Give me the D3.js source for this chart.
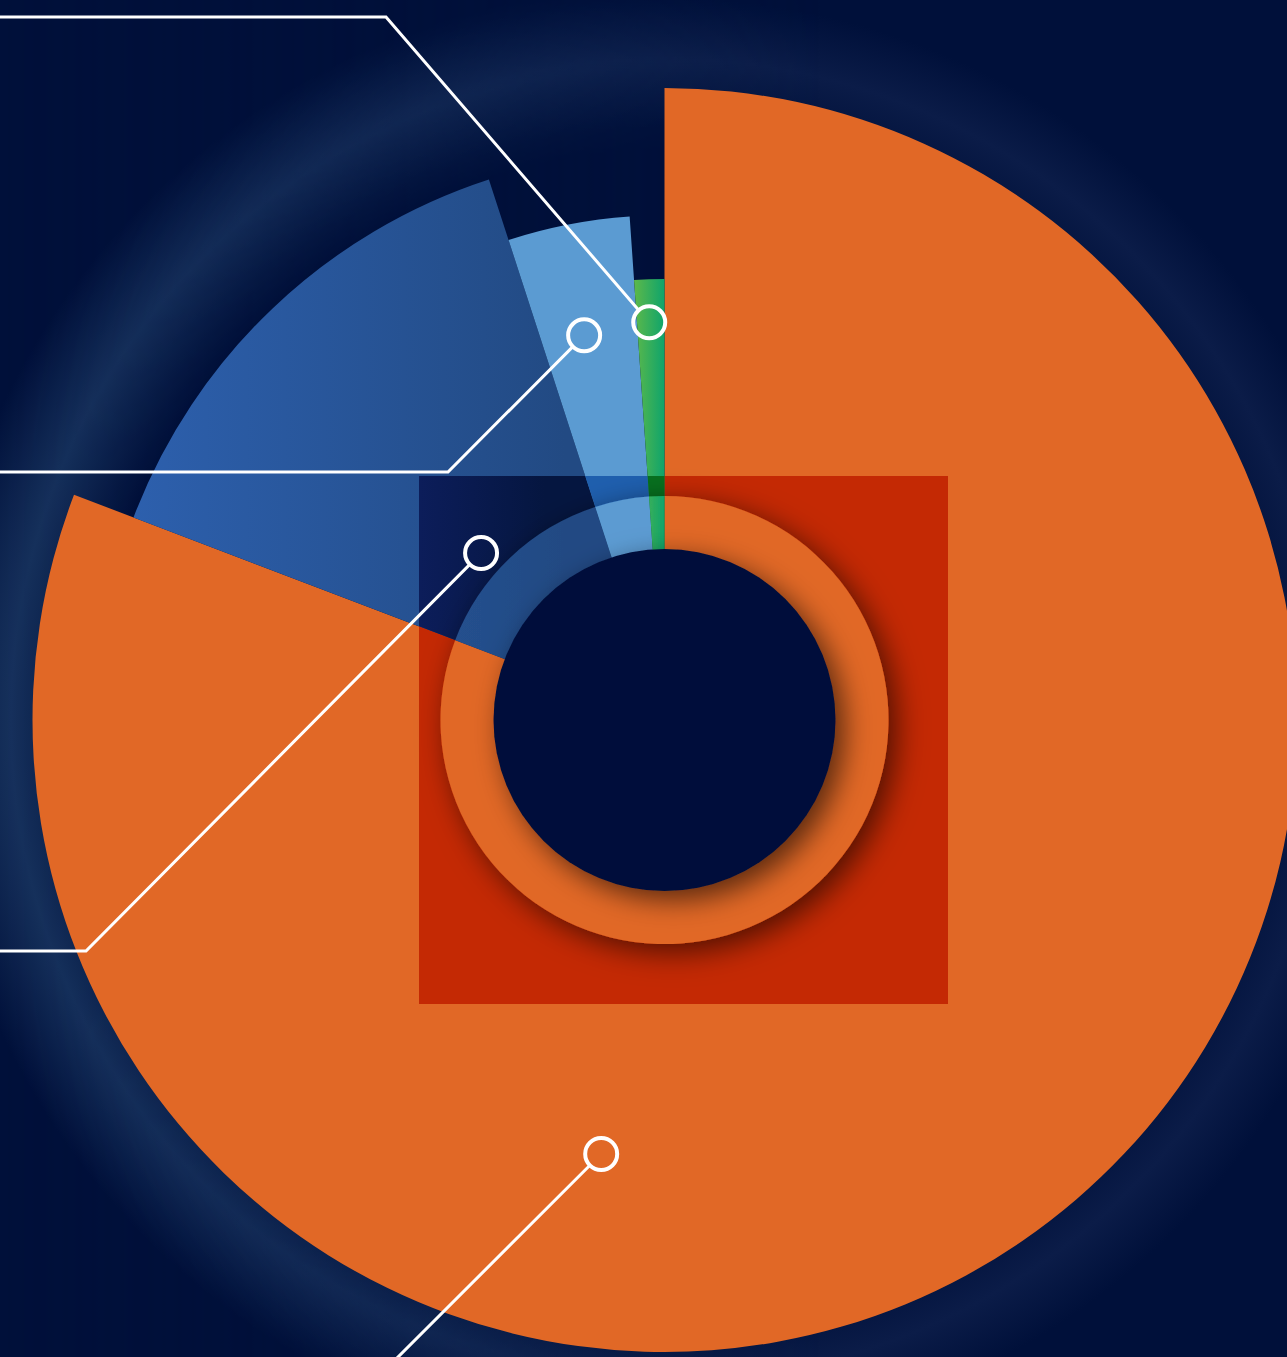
<!DOCTYPE html>
<html>
<head>
<meta charset="utf-8">
<script src="https://d3js.org/d3.v7.min.js"></script>
<style>
  body { margin: 0; background: #00103a; overflow: hidden; }
  svg { display: block; }
</style>
</head>
<body>
<svg id="chart"></svg>
<script>
// --- data ---
const segments = ["Segment A", "Segment B", "Segment C", "Segment D"];
const shares = [80.8, 14.2, 3.9, 1.1];     // percent of the circle
const levels = [4, 3, 2, 1];               // radial step of each wedge

// --- layout ---
const W = 1287, H = 1357;
const cx = 664.5, cy = 720;
const HOLE_R = 171, RING_R = 224;
const square = { x: -245.5, y: -244, w: 529, h: 528 };

const fills = ["#e16826", "url(#gradDark)", "#5b9bd2", "url(#gradGreen)"];
const tints = ["#c42904", "url(#gradDarkTint)", "#1f5fae", "#07701f"];

// marker = polar position on the wedge, elbow = where the leader turns horizontal
const callouts = [
  { seg: 0, angle: 188.3, r: 438.6, elbow: [340, 1415] },
  { seg: 1, angle: -47.7, r: 248, elbow: [86, 951] },
  { seg: 2, angle: -11.8, r: 393, elbow: [448, 472] },
  { seg: 3, angle: -2.2, r: 398, elbow: [386, 17] }
];

const svg = d3.select("#chart").attr("width", W).attr("height", H);
const defs = svg.append("defs");

function linGrad(id, x1, x2, stops) {
  const g = defs.append("linearGradient").attr("id", id)
    .attr("gradientUnits", "userSpaceOnUse")
    .attr("x1", x1).attr("x2", x2).attr("y1", 0).attr("y2", 0);
  stops.forEach(s => g.append("stop").attr("offset", s[0]).attr("stop-color", s[1]));
}
linGrad("gradDark", -540, -100, [[0, "#2d60ae"], [1, "#224a83"]]);
linGrad("gradDarkTint", -245, -120, [[0, "#0c1d5a"], [1, "#051640"]]);
linGrad("gradGreen", -30, 0, [[0, "#5cb84a"], [1, "#0ea46c"]]);
linGrad("fadeRight", 0, 820, [[0, "#fff"], [1, "#000"]]);

// halo around the pie: faint all round, stronger on the left
function halo(id, stops) {
  const rg = defs.append("radialGradient").attr("id", id)
    .attr("gradientUnits", "userSpaceOnUse")
    .attr("cx", cx).attr("cy", cy).attr("r", 760);
  stops.forEach(s => rg.append("stop").attr("offset", s[0]).attr("stop-color", s[1]));
}
halo("glowSoft", [[0, "#00103a"], [0.78, "#00103a"], [0.87, "#0b1c48"], [0.95, "#00103a"], [1, "#00103a"]]);
halo("glowStrong", [[0, "#00103a"], [0.75, "#00103a"], [0.86, "#16315c"], [0.965, "#00103a"], [1, "#00103a"]]);

defs.append("mask").attr("id", "leftMask")
  .attr("maskUnits", "userSpaceOnUse")
  .attr("x", 0).attr("y", 0).attr("width", W).attr("height", H)
  .append("rect").attr("width", W).attr("height", H).attr("fill", "url(#fadeRight)");

function shadow(id, d, sd, op) {
  defs.append("filter").attr("id", id)
    .attr("x", "-30%").attr("y", "-30%").attr("width", "160%").attr("height", "160%")
    .append("feDropShadow")
    .attr("dx", d).attr("dy", d).attr("stdDeviation", sd)
    .attr("flood-color", "#000").attr("flood-opacity", op);
}
shadow("ringShadow", 8, 15, 0.6);
shadow("holeShadow", 9, 14, 0.6);

defs.append("clipPath").attr("id", "sqClip")
  .append("rect")
  .attr("x", square.x).attr("y", square.y)
  .attr("width", square.w).attr("height", square.h);

// background
svg.append("rect").attr("width", W).attr("height", H).attr("fill", "#00103a");
svg.append("rect").attr("width", W).attr("height", H).attr("fill", "url(#glowSoft)");
svg.append("rect").attr("width", W).attr("height", H).attr("fill", "url(#glowStrong)")
  .attr("mask", "url(#leftMask)");

const g = svg.append("g").attr("transform", `translate(${cx},${cy})`);

const data = segments.map((s, i) => ({ name: s, share: shares[i], level: levels[i], i }));
const pie = d3.pie().sort(null).value(d => d.share).startAngle(0).endAngle(2 * Math.PI);
const arcs = pie(data);

const rScale = d3.scaleLinear().domain([1, 4]).range([441, 632]);

const wedge = d3.arc()
  .innerRadius(HOLE_R)
  .outerRadius(d => rScale(d.data.level));

g.append("g").selectAll("path")
  .data(arcs).join("path")
  .attr("d", wedge)
  .attr("fill", d => fills[d.data.i]);

// tinted square
const core = d3.arc().innerRadius(0).outerRadius(d => rScale(d.data.level));
g.append("g").attr("clip-path", "url(#sqClip)")
  .selectAll("path")
  .data(arcs).join("path")
  .attr("d", core)
  .attr("fill", d => tints[d.data.i]);

// ring
const ring = d3.arc().innerRadius(HOLE_R - 1).outerRadius(RING_R);
g.append("g").attr("filter", "url(#ringShadow)")
  .selectAll("path")
  .data(arcs).join("path")
  .attr("d", ring)
  .attr("fill", d => fills[d.data.i]);

// hole
g.append("circle").attr("r", HOLE_R)
  .attr("fill", "#00103a")
  .attr("filter", "url(#holeShadow)");

// callouts
const MR = 16;
const lines = svg.append("g");
callouts.forEach(c => {
  const a = c.angle * Math.PI / 180;
  const mx = cx + c.r * Math.sin(a);
  const my = cy - c.r * Math.cos(a);
  const ex = c.elbow[0], ey = c.elbow[1];
  const len = Math.hypot(ex - mx, ey - my);
  const sx = mx + (ex - mx) / len * (MR + 1);
  const sy = my + (ey - my) / len * (MR + 1);
  lines.append("path")
    .attr("d", d3.line()([[sx, sy], [ex, ey], [-10, ey]]))
    .attr("fill", "none")
    .attr("stroke", "#fff")
    .attr("stroke-width", 3);
  lines.append("circle")
    .attr("cx", mx).attr("cy", my).attr("r", MR)
    .attr("fill", "none")
    .attr("stroke", "#fff")
    .attr("stroke-width", 4);
});
</script>
</body>
</html>
